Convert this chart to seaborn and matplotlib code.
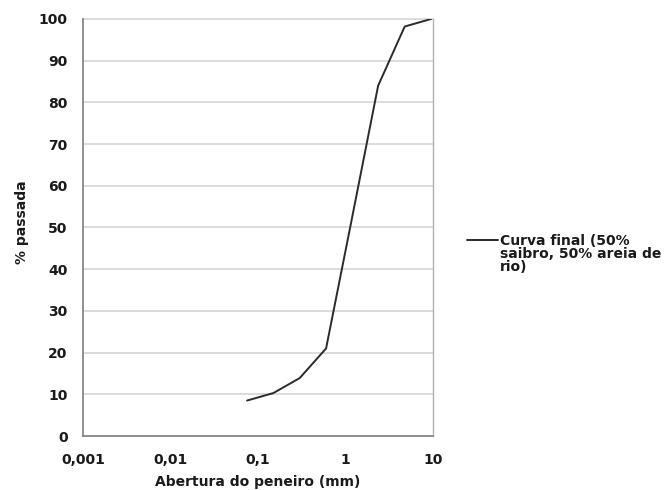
import matplotlib
matplotlib.use("Agg")
import matplotlib.pyplot as plt
import seaborn as sns
import pandas as pd
from matplotlib.ticker import FixedLocator, FixedFormatter, NullLocator
from matplotlib.legend_handler import HandlerLine2D

# Data
abertura_mm = [0.075, 0.15, 0.3, 0.6, 1.18, 2.36, 4.75, 9.5]
passada_pct = [8.5, 10.3, 13.9, 21.0, 52.0, 84.0, 98.2, 100.0]
serie = "Curva final (50%\nsaibro, 50% areia de\nrio)"
x_ticks = [0.001, 0.01, 0.1, 1, 10]
x_labels = ["0,001", "0,01", "0,1", "1", "10"]
y_ticks = list(range(0, 101, 10))

sns.set_style("white")
plt.rcParams['font.family'] = ['DejaVu Sans']
plt.rcParams['font.weight'] = 'bold'

TXT = "#1a1a1a"
FS = 10

df = pd.DataFrame({"x": abertura_mm, "y": passada_pct, "s": [serie] * len(abertura_mm)})

fig = plt.figure(figsize=(6.69, 4.9), dpi=100)
ax = fig.add_axes([83/669, 54/490, 350/669, 417/490])

sns.lineplot(data=df, x="x", y="y", hue="s", palette=["#2b2b2b"], linewidth=1.4,
             ax=ax, sort=False, estimator=None)

ax.set_xscale("log")
ax.set_xlim(0.001, 10)
ax.set_ylim(0, 100)
ax.xaxis.set_major_locator(FixedLocator(x_ticks))
ax.xaxis.set_major_formatter(FixedFormatter(x_labels))
ax.xaxis.set_minor_locator(NullLocator())
ax.set_yticks(y_ticks)
ax.yaxis.grid(True, color="#d9d9d9", linewidth=1.3)
ax.xaxis.grid(False)
for gl in ax.yaxis.get_gridlines():
    gl.set_clip_on(False)
ax.tick_params(axis="both", length=0, labelsize=FS, colors=TXT)
ax.tick_params(axis="y", pad=11)
ax.tick_params(axis="x", pad=12)
for lab in ax.get_xticklabels() + ax.get_yticklabels():
    lab.set_fontweight("bold")

for side in ["left", "bottom"]:
    ax.spines[side].set_color("#888888")
    ax.spines[side].set_linewidth(1.3)
ax.spines["right"].set_color("#b0b0b0")
ax.spines["right"].set_linewidth(1.0)
ax.spines["top"].set_visible(False)

ax.set_xlabel("Abertura do peneiro (mm)", fontsize=FS, fontweight="bold", color=TXT)
ax.set_ylabel("% passada", fontsize=FS, fontweight="bold", color=TXT)
ax.xaxis.set_label_coords(0.5, (436 - 474.5) / 417)
ax.yaxis.set_label_coords((29 - 83) / 350, (436 - 222) / 417)


class TopHandler(HandlerLine2D):
    def create_artists(self, legend, orig_handle, xdescent, ydescent, width,
                       height, fontsize, trans):
        arts = super().create_artists(legend, orig_handle, xdescent, ydescent,
                                      width, height, fontsize, trans)
        for a in arts:
            a.set_ydata([y + 10.5 for y in a.get_ydata()])
        return arts


handles, labels = ax.get_legend_handles_labels()
leg = ax.legend(handles, labels, loc="center left",
                bbox_to_anchor=((467 - 83) / 350, (436 - 254) / 417), frameon=False,
                fontsize=FS, handlelength=2.2, handletextpad=0.15, borderaxespad=0,
                borderpad=0, handler_map={type(handles[0]): TopHandler()})
for t in leg.get_texts():
    t.set_fontweight("bold")
    t.set_color(TXT)
    t.set_linespacing(0.95)

fig.savefig("out.png", dpi=100)
